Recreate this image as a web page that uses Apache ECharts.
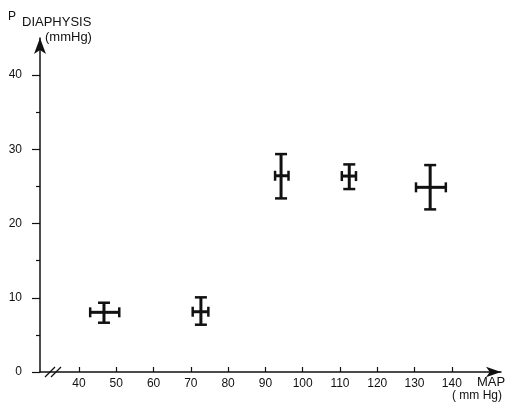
<!DOCTYPE html>
<html>
<head>
<meta charset="utf-8">
<script src="https://cdn.jsdelivr.net/npm/echarts@6/dist/echarts.min.js"></script>
<style>html,body{margin:0;padding:0;background:#fff;}#c{width:512px;height:411px;}</style>
</head>
<body>
<div id="c"></div>
<script>
// Data
const mapMean = [46.7, 72.7, 94.2, 112.5, 134.2];
const mapLow  = [43.0, 70.5, 92.6, 110.5, 130.4];
const mapHigh = [50.8, 74.7, 96.2, 114.3, 138.4];
const pMean   = [8.04, 8.12, 26.44, 26.40, 24.88];
const pLow    = [6.64, 6.37, 23.39, 24.65, 21.91];
const pHigh   = [9.33, 10.06, 29.36, 27.97, 27.88];
const xTicks  = [40, 50, 60, 70, 80, 90, 100, 110, 120, 130, 140];
const yTicks  = [0, 10, 20, 30, 40];
const yMinorTicks = [5, 15, 25, 35];

const data = mapMean.map((m, i) => [m, pMean[i], mapLow[i], mapHigh[i], pLow[i], pHigh[i]]);
const ink = '#111';
const font = 'Liberation Sans';

const chart = echarts.init(document.getElementById('c'), null, {renderer: 'canvas'});
chart.setOption({
  backgroundColor: '#fff',
  animation: false,
  grid: {left: 40, right: 11, top: 38, bottom: 39},
  xAxis: {
    type: 'value', min: 29.54, max: 153.2,
    splitLine: {show: false},
    axisLine: {show: true, onZero: false, lineStyle: {color: ink, width: 1.5},
      symbol: ['none', 'arrow'], symbolSize: [8, 15]},
    axisTick: {show: true, inside: true, length: 5, lineStyle: {color: ink, width: 1.2}, customValues: xTicks},
    axisLabel: {color: ink, fontFamily: font, fontSize: 12, margin: 6, customValues: xTicks}
  },
  yAxis: [{
    type: 'value', min: 0, max: 45,
    splitLine: {show: false},
    axisLine: {show: true, onZero: false, lineStyle: {color: ink, width: 1.5},
      symbol: ['none', 'arrow'], symbolSize: [9, 16]},
    axisTick: {show: true, inside: false, length: 8, lineStyle: {color: ink, width: 1.2}, customValues: yTicks},
    axisLabel: {color: ink, fontFamily: font, fontSize: 12, margin: 18, customValues: yTicks}
  }, {
    type: 'value', min: 0, max: 45, position: 'left',
    splitLine: {show: false},
    axisLine: {show: false},
    axisTick: {show: true, inside: false, length: 4, lineStyle: {color: ink, width: 1.2}, customValues: yMinorTicks},
    axisLabel: {show: false}
  }],
  series: [{
    type: 'custom',
    data: data,
    encode: {x: [0, 2, 3], y: [1, 4, 5]},
    renderItem: function (params, api) {
      const x = api.value(0), y = api.value(1);
      const l = api.coord([api.value(2), y]);
      const r = api.coord([api.value(3), y]);
      const b = api.coord([x, api.value(4)]);
      const t = api.coord([x, api.value(5)]);
      const capV = 6, capH = 5;
      const st = {stroke: ink, lineWidth: 3};
      const st2 = {stroke: ink, lineWidth: 2.5};
      return {
        type: 'group',
        children: [
          {type: 'line', shape: {x1: l[0], y1: l[1], x2: r[0], y2: r[1]}, style: st},
          {type: 'line', shape: {x1: b[0], y1: b[1], x2: t[0], y2: t[1]}, style: st},
          {type: 'line', shape: {x1: t[0] - capV, y1: t[1], x2: t[0] + capV, y2: t[1]}, style: st2},
          {type: 'line', shape: {x1: b[0] - capV, y1: b[1], x2: b[0] + capV, y2: b[1]}, style: st2},
          {type: 'line', shape: {x1: l[0], y1: l[1] - capH, x2: l[0], y2: l[1] + capH}, style: st2},
          {type: 'line', shape: {x1: r[0], y1: r[1] - capH, x2: r[0], y2: r[1] + capH}, style: st2}
        ]
      };
    }
  }],
  graphic: [
    {type: 'text', left: 8, top: 11, style: {text: 'P', fill: ink, font: '12px ' + font}},
    {type: 'text', left: 22, top: 16, style: {text: 'DIAPHYSIS', fill: ink, font: '13px ' + font}},
    {type: 'text', left: 45, top: 31, style: {text: '(mmHg)', fill: ink, font: '13px ' + font}},
    {type: 'text', left: 477, top: 376, style: {text: 'MAP', fill: ink, font: '13px ' + font}},
    {type: 'text', left: 452, top: 390, style: {text: '( mm Hg)', fill: ink, font: '12px ' + font}},
    {type: 'line', shape: {x1: 45, y1: 377, x2: 55, y2: 367}, style: {stroke: ink, lineWidth: 1.2}},
    {type: 'line', shape: {x1: 51, y1: 377, x2: 61, y2: 367}, style: {stroke: ink, lineWidth: 1.2}}
  ]
});
</script>
</body>
</html>
